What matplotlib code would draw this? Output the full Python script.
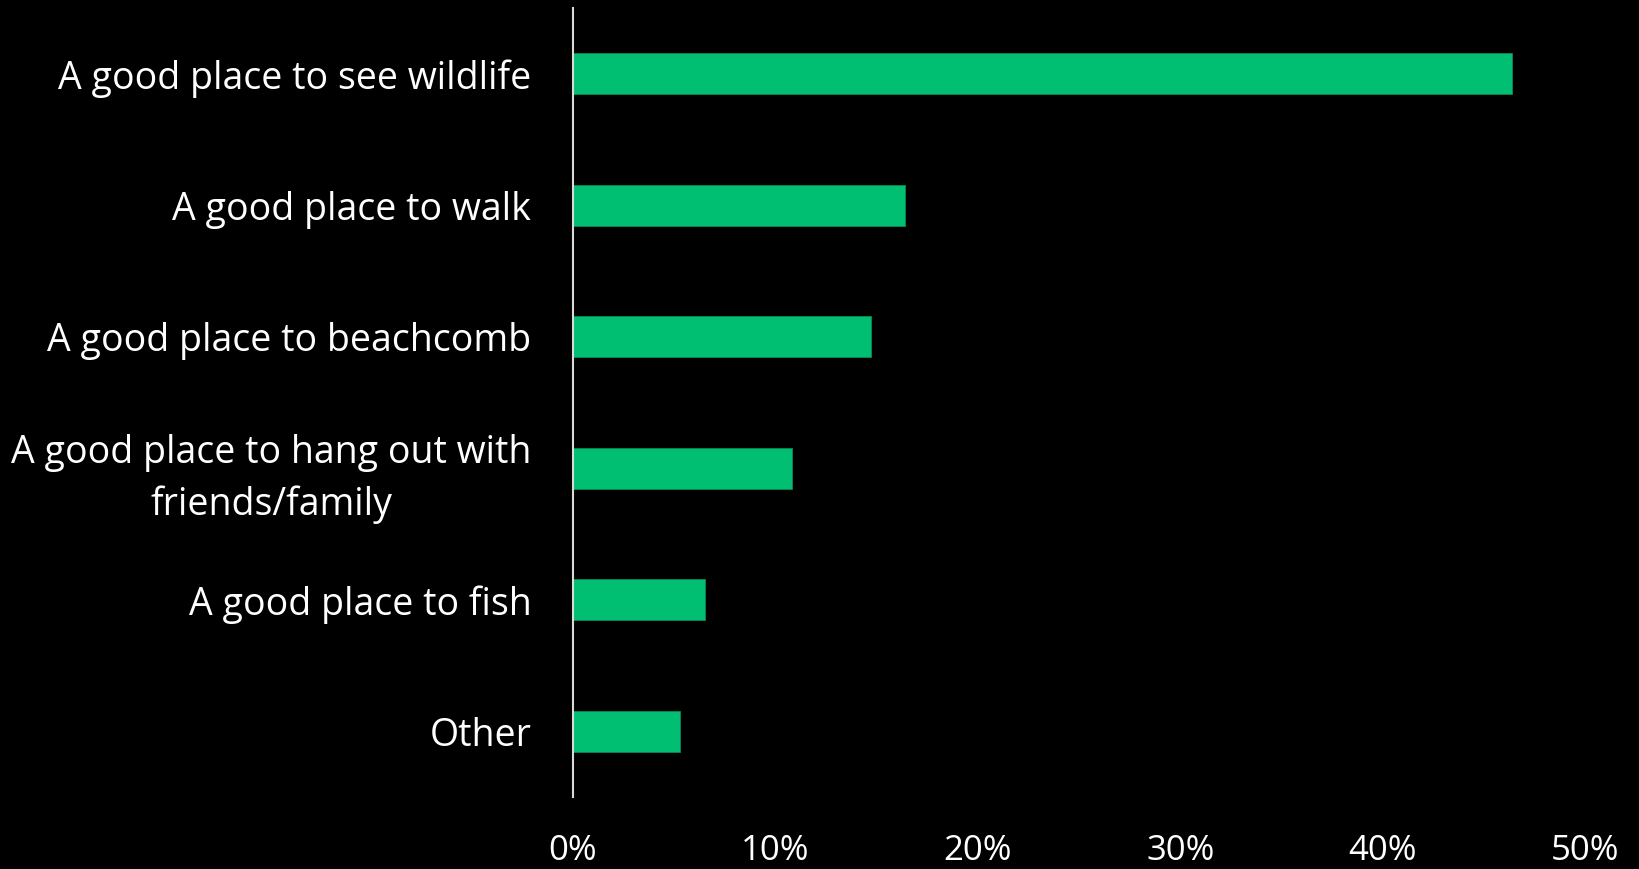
import numpy as np
import matplotlib
matplotlib.use("Agg")
import matplotlib.pyplot as plt

categories = [
    "A good place to see wildlife",
    "A good place to walk",
    "A good place to beachcomb",
    "A good place to hang out with\nfriends/family",
    "A good place to fish",
    "Other",
]
values = [0.464, 0.164, 0.147, 0.108, 0.065, 0.053]
xticks = [0.0, 0.1, 0.2, 0.3, 0.4, 0.5]
xticklabels = ["0%", "10%", "20%", "30%", "40%", "50%"]

plt.rcParams['font.family'] = ['Open Sans', 'DejaVu Sans']

fig = plt.figure(figsize=(16.4, 8.69), dpi=100, facecolor="black")
ax = fig.add_axes([0.3494, 0.0829, 0.6171, 0.9079], facecolor="black")

y = np.arange(len(categories))
ax.barh(y, values, height=0.31, color="#00BF72", edgecolor="#0B8A55", linewidth=0.6)

ax.set_ylim(len(categories) - 0.5, -0.5)
ax.set_xlim(0, 0.5)
ax.set_yticks(y)
ax.set_yticklabels(categories, fontsize=27, color="white",
                   multialignment="center", linespacing=1.45)
ax.set_xticks(xticks)
ax.set_xticklabels(xticklabels, fontsize=25, color="white")
ax.tick_params(axis="y", length=0, pad=30)
ax.tick_params(axis="x", length=0, pad=27)

for s in ["top", "right", "bottom"]:
    ax.spines[s].set_visible(False)
ax.spines["left"].set_color("#d9d9d9")
ax.spines["left"].set_linewidth(1.5)

fig.savefig("out.png", dpi=100, facecolor="black")
